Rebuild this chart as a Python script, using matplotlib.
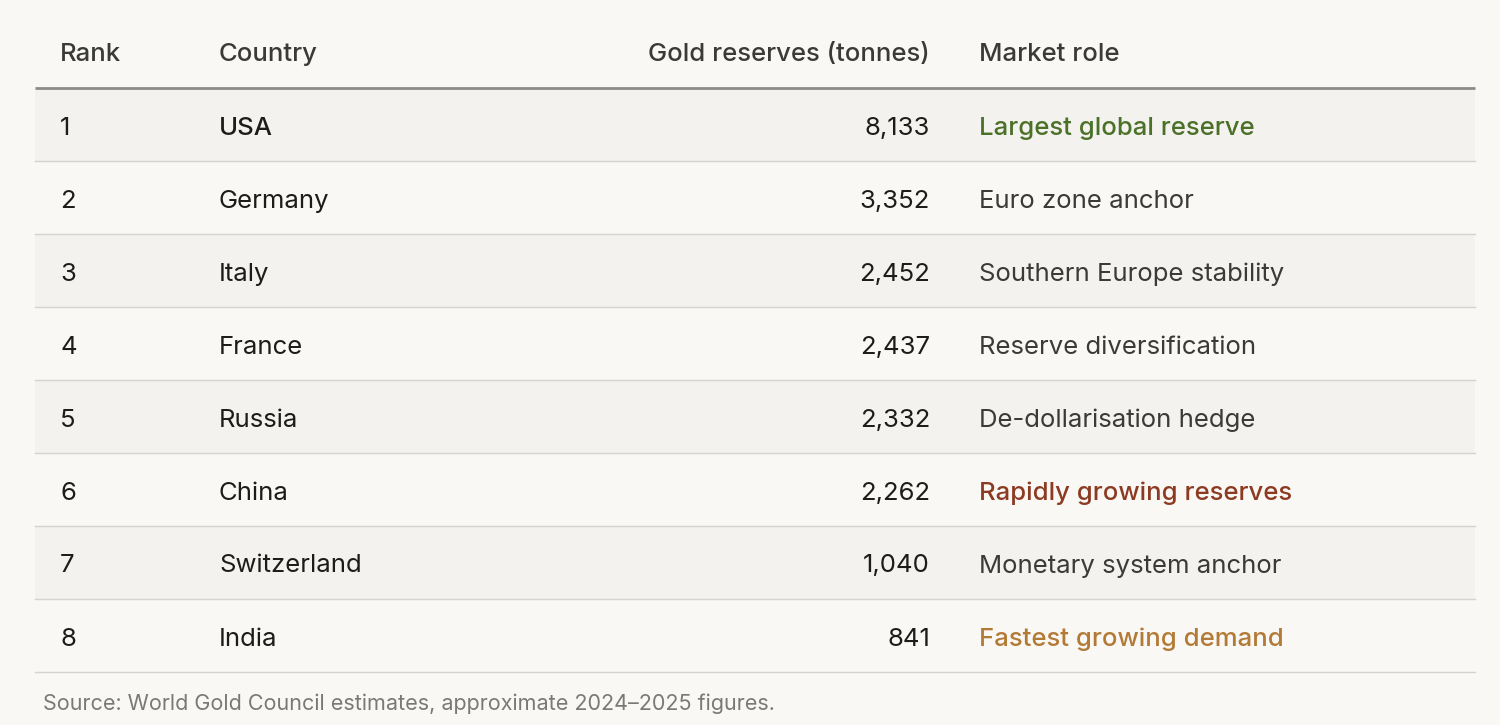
import matplotlib.pyplot as plt

# table data
ranks = [1, 2, 3, 4, 5, 6, 7, 8]
countries = ["USA", "Germany", "Italy", "France", "Russia", "China", "Switzerland", "India"]
reserves = [8133, 3352, 2452, 2437, 2332, 2262, 1040, 841]
roles = ["Largest global reserve", "Euro zone anchor", "Southern Europe stability",
         "Reserve diversification", "De-dollarisation hedge", "Rapidly growing reserves",
         "Monetary system anchor", "Fastest growing demand"]
headers = ["Rank", "Country", "Gold reserves (tonnes)", "Market role"]
source = "Source: World Gold Council estimates, approximate 2024\u20132025 figures."

role_colors = {0: "#4b7028", 5: "#8c3b22", 7: "#b37a36"}

plt.rcParams['font.family'] = ['Inter', 'DejaVu Sans']

fig = plt.figure(figsize=(15, 7.25), dpi=100)
fig.patch.set_facecolor("#f9f8f5")
ax = fig.add_axes([0, 0, 1, 1])
ax.set_xlim(0, 1500)
ax.set_ylim(725, 0)
ax.axis("off")

left, right = 35, 1475
top = 88
row_h = 73
x_rank, x_country, x_res, x_role = 60, 219, 930, 979
fs = 18.5

# header
hy = 54
for txt, x, ha in zip(headers, [x_rank, x_country, x_res, x_role],
                      ["left", "left", "right", "left"]):
    ax.text(x, hy, txt, fontsize=fs, ha=ha, va="center", color="#3a3a36", fontweight="medium")
ax.plot([left, right], [top, top], color="#8c8b87", lw=2, solid_capstyle="butt")

for i in range(len(ranks)):
    y0 = top + i * row_h
    yc = y0 + row_h / 2 + 3.5
    if i % 2 == 0:
        ax.fill_between([left, right], y0 + 1, y0 + row_h, color="#f3f2ee", lw=0)
    ax.plot([left, right], [y0 + row_h, y0 + row_h], color="#d4d3cf", lw=1)
    ax.text(x_rank, yc, str(ranks[i]), fontsize=fs, ha="left", va="center", color="#1c1c1a")
    ax.text(x_country, yc, countries[i], fontsize=fs, ha="left", va="center", color="#1c1c1a",
            fontweight="medium" if i == 0 else "normal")
    ax.text(x_res, yc, f"{reserves[i]:,}", fontsize=fs, ha="right", va="center", color="#1c1c1a")
    c = role_colors.get(i, "#3a3a36")
    ax.text(x_role, yc, roles[i], fontsize=fs, ha="left", va="center", color=c,
            fontweight="medium" if i in role_colors else "normal")

ax.text(43, 704, source, fontsize=15.5, ha="left", va="center", color="#7a7975")

fig.savefig("out.png", dpi=100, facecolor=fig.get_facecolor())
